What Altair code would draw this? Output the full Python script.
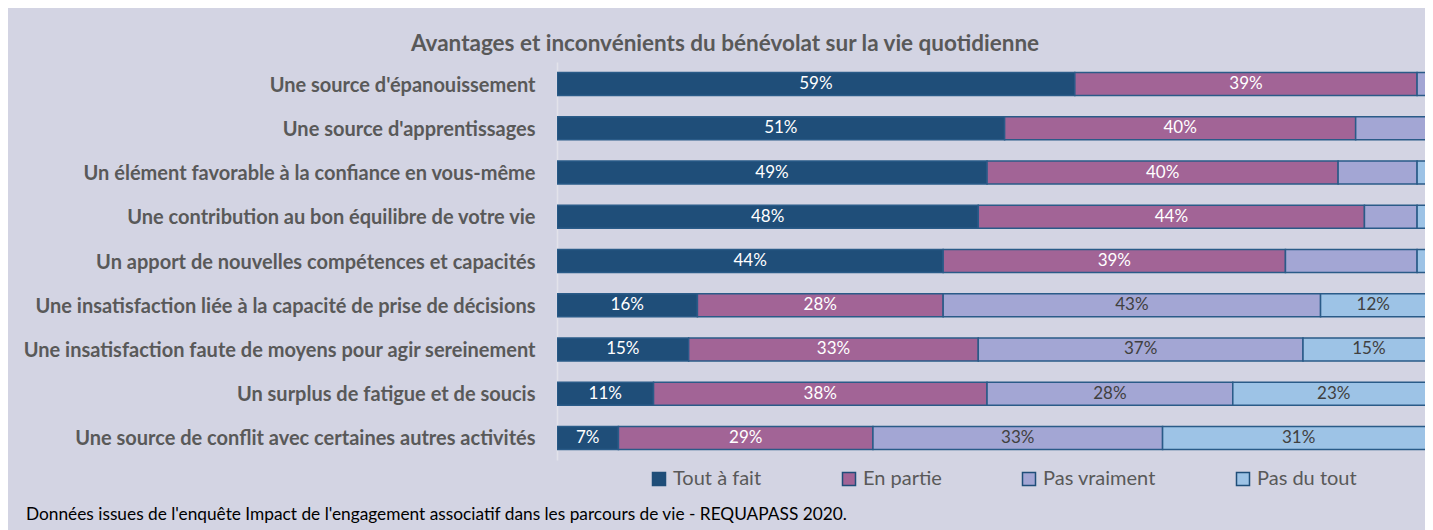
import altair as alt
import pandas as pd

items = [
    "Une source d'épanouissement",
    "Une source d'apprentissages",
    "Un élément favorable à la confiance en vous-même",
    "Une contribution au bon équilibre de votre vie",
    "Un apport de nouvelles compétences et capacités",
    "Une insatisfaction liée à la capacité de prise de décisions",
    "Une insatisfaction faute de moyens pour agir sereinement",
    "Un surplus de fatigue et de soucis",
    "Une source de conflit avec certaines autres activités",
]
categories = ["Tout à fait", "En partie", "Pas vraiment", "Pas du tout"]
tout_a_fait = [59, 51, 49, 48, 44, 16, 15, 11, 7]
en_partie = [39, 40, 40, 44, 39, 28, 33, 38, 29]
pas_vraiment = [2, 8, 9, 6, 15, 43, 37, 28, 33]
pas_du_tout = [0, 1, 2, 2, 2, 12, 15, 23, 31]
# number of segments carrying a visible value label in each row
labelled_segments = [2, 2, 2, 2, 2, 4, 4, 4, 4]

colors = ["#1F4E79", "#A26496", "#A3A6D4", "#9DC3E6"]
title_text = "Avantages et inconvénients du bénévolat sur la vie quotidienne"
footnote = "Données issues de l'enquête Impact de l'engagement associatif dans les parcours de vie - REQUAPASS 2020."

rows = []
series = [tout_a_fait, en_partie, pas_vraiment, pas_du_tout]
for i, item in enumerate(items):
    for k, cat in enumerate(categories):
        rows.append({
            "item": item,
            "cat": cat,
            "order": k,
            "value": series[k][i],
            "show": k < labelled_segments[i],
        })
df = pd.DataFrame(rows)

FONT = "Lato"
BG = "#D3D4E3"

y_enc = alt.Y(
    "item:N",
    sort=items,
    title=None,
    scale=alt.Scale(paddingInner=0.48, paddingOuter=0.24),
    axis=alt.Axis(
        ticks=False,
        labelPadding=22,
        labelOffset=1.5,
        labelFont=FONT,
        labelFontSize=20,
        labelFontWeight="bold",
        labelColor="#595959",
        labelLimit=600,
        domainColor="#E2E2EA",
        domainWidth=1.5,
        grid=False,
    ),
)
x_scale = alt.Scale(domain=[0, 98.9], nice=False, zero=True)

base = alt.Chart(df)

bars = base.mark_bar(stroke="#2A5B88", strokeWidth=1.5, clip=True).encode(
    y=y_enc,
    x=alt.X("value:Q", stack="zero", scale=x_scale, axis=None),
    color=alt.Color(
        "cat:N",
        scale=alt.Scale(domain=categories, range=colors),
        legend=alt.Legend(
            title=None,
            orient="none",
            direction="horizontal",
            legendX=92,
            legendY=407,
            symbolType="square",
            symbolSize=169,
            symbolStrokeColor="#1F4E79",
            symbolStrokeWidth=1.5,
            symbolOpacity=1,
            labelFont=FONT,
            labelFontSize=20,
            labelColor="#595959",
            labelOffset=4,
            columnPadding=77,
        ),
    ),
    order=alt.Order("order:Q"),
)

labels = (
    base.transform_stack(
        stack="value",
        as_=["x0", "x1"],
        groupby=["item"],
        sort=[alt.SortField("order", order="ascending")],
    )
    .transform_calculate(mid="(datum.x0 + datum.x1) / 2", lbl="datum.value + '%'")
    .transform_filter("datum.show")
    .mark_text(font=FONT, fontSize=17, baseline="middle", clip=True)
    .encode(
        y=alt.Y("item:N", sort=items),
        x=alt.X("mid:Q", scale=x_scale),
        text="lbl:N",
        color=alt.condition("datum.order < 2", alt.value("white"), alt.value("#404040")),
    )
)

foot = alt.Chart(pd.DataFrame({"t": [footnote]})).mark_text(
    align="left", baseline="middle", font=FONT, fontSize=17.3, color="black"
).encode(text="t:N", x=alt.value(-531), y=alt.value(453))

chart = (
    alt.layer(bars, labels, foot)
    .properties(
        width=868,
        height=398,
        autosize=alt.AutoSizeParams(type="none"),
        padding={"left": 549, "top": 54, "right": 0, "bottom": 70},
        background=BG,
        title=alt.TitleParams(
            title_text,
            font=FONT,
            fontSize=22.5,
            fontWeight="bold",
            color="#595959",
            anchor="middle",
            dx=-266,
            offset=7,
        ),
    )
    .configure_view(stroke=None)
)

chart.save("out.html", embed_options={"renderer": "svg", "actions": False})
